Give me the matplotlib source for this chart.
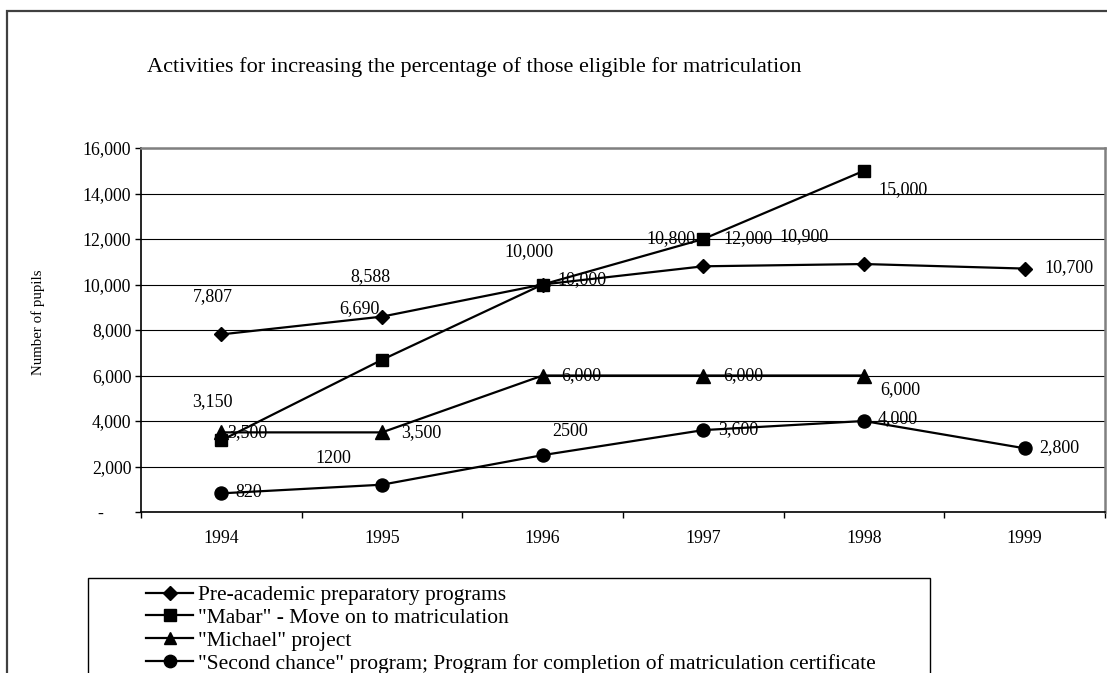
import numpy as np
import matplotlib.pyplot as plt
from matplotlib.patches import Rectangle
from matplotlib.ticker import FuncFormatter, MultipleLocator
from matplotlib.transforms import ScaledTranslation

plt.rcParams['font.family'] = ['Liberation Serif', 'DejaVu Serif']

# pupils per programme and year
years = ['1994', '1995', '1996', '1997', '1998', '1999']
pre_academic = [7807, 8588, 10000, 10800, 10900, 10700]
mabar = [3150, 6690, 10000, 12000, 15000, np.nan]
michael = [3500, 3500, 6000, 6000, 6000, np.nan]
second_chance = [820, 1200, 2500, 3600, 4000, 2800]

names = ['Pre-academic preparatory programs',
         '"Mabar" - Move on to matriculation',
         '"Michael" project',
         '"Second chance" program; Program for completion of matriculation certificate']

# where each value label sits relative to its marker (pixels, right / up)
pre_off = [(-8, 38), (-12, 40), (-14, 33), (-32, 28), (-60, 27), (44, 1)]
mabar_off = [(-9, 39), (-23, 51), (39, 5), (45, 0), (39, -19), None]
michael_off = [(26, 0), (39, 0), (39, 0), (40, 0), (36, -14), None]
second_off = [(27, 1), (-49, 26), (27, 24), (35, 1), (34, 2), (35, 1)]
# two of the "second chance" labels were typed without a thousands separator
second_fmt = ['{:,.0f}', '{:.0f}', '{:.0f}', '{:,.0f}', '{:,.0f}', '{:,.0f}']

W, H = 1107, 673
fig = plt.figure(figsize=(W / 100, H / 100), dpi=100)
ax = fig.add_axes([141 / W, 1 - 512 / H, (1105 - 141) / W, (512 - 148) / H])

x = np.arange(len(years))
series = [
    (pre_academic, 'D', 7.6, pre_off, ['{:,.0f}'] * 6),
    (mabar, 's', 8.8, mabar_off, ['{:,.0f}'] * 6),
    (michael, '^', 9.4, michael_off, ['{:,.0f}'] * 6),
    (second_chance, 'o', 9.4, second_off, second_fmt),
]

for (vals, mk, ms, offs, fmts), name in zip(series, names):
    ax.plot(x, vals, color='black', lw=1.6, marker=mk, ms=ms,
            mec='black', mfc='black', label=name, zorder=3)
    for xi, v, off, f in zip(x, vals, offs, fmts):
        if off is None or np.isnan(v):
            continue
        ax.annotate(f.format(v), (xi, v), xytext=off, textcoords='offset pixels',
                    ha='center', va='center', fontsize=13, color='black', zorder=4)

ax.set_xlim(-0.5, len(years) - 0.5)
ax.set_ylim(0, 16000)
ax.yaxis.set_major_locator(MultipleLocator(2000))
ax.yaxis.set_major_formatter(FuncFormatter(lambda v, p: '-' if v == 0 else f'{v:,.0f}'))
ax.grid(axis='y', color='black', lw=0.8)
ax.set_axisbelow(True)

ax.set_xticks(x)
ax.set_xticklabels(years)
ax.set_xticks(np.arange(len(years) + 1) - 0.5, minor=True)
ax.tick_params(axis='x', which='major', length=0, pad=13, labelsize=12.8)
ax.tick_params(axis='x', which='minor', length=4, width=1, direction='out')
ax.tick_params(axis='y', length=4, width=1, direction='out', pad=3, labelsize=12.8)

# the "-" for zero sits further left, like an accounting format
for lab in ax.get_yticklabels():
    if lab.get_text() == '-':
        lab.set_transform(lab.get_transform() + ScaledTranslation(-28 / 100, 0, fig.dpi_scale_trans))

for side in ['top', 'right']:
    ax.spines[side].set_color('#808080')
    ax.spines[side].set_linewidth(1.8)
for side in ['left', 'bottom']:
    ax.spines[side].set_color('black')
    ax.spines[side].set_linewidth(1.2)

fig.text(38 / W, 1 - 322 / H, 'Number of pupils', rotation=90, ha='center', va='center',
         fontsize=10.7)
fig.text(474 / W, 1 - 67 / H,
         'Activities for increasing the percentage of those eligible for matriculation',
         ha='center', va='center', fontsize=16)

# outer chart frame and legend box, both running off the bottom edge
fig.add_artist(Rectangle((7 / W, -0.2), 1.2, 1.2 - 11 / H, transform=fig.transFigure,
                         fill=False, ec='#404040', lw=1.6))
fig.add_artist(Rectangle((88 / W, -0.2), (930 - 88) / W, 0.2 + 1 - 578 / H,
                         transform=fig.transFigure, fill=False, ec='black', lw=1.0))

fig.legend(loc='upper left', bbox_to_anchor=(146 / W, 1 - 585 / H), frameon=False,
           fontsize=15.5, handlelength=2.2, handletextpad=0.2, labelspacing=0.13,
           borderpad=0, borderaxespad=0, markerscale=0.95)

fig.savefig('out.png', dpi=100)
